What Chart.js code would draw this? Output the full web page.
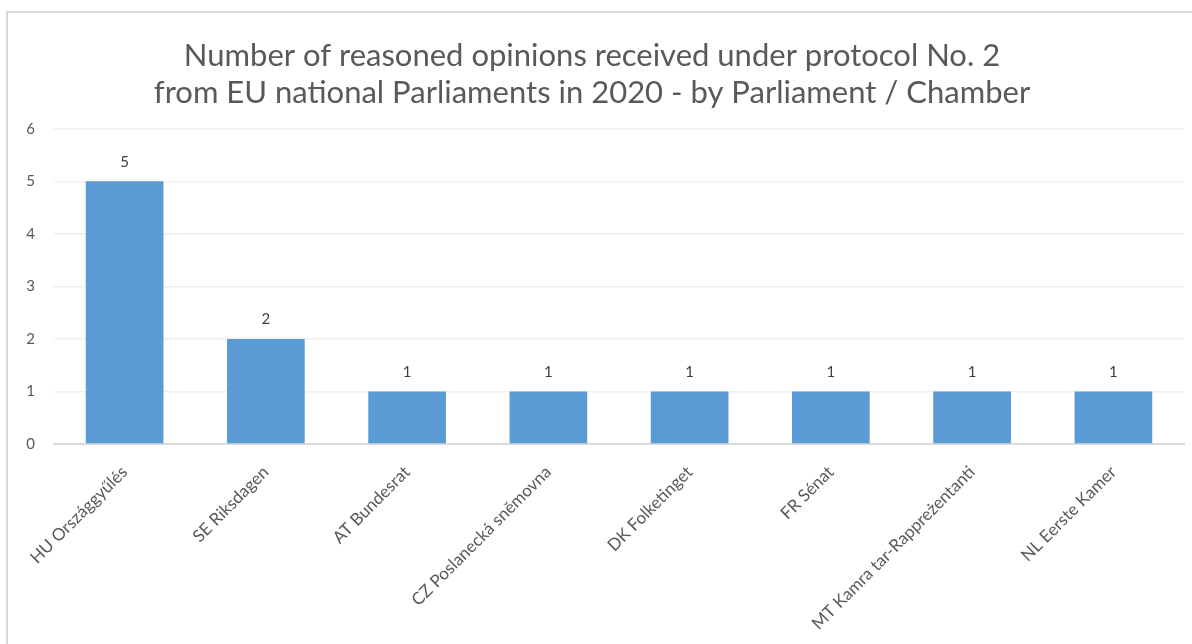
<!DOCTYPE html>
<html>
<head>
<meta charset="utf-8">
<script src="https://cdn.jsdelivr.net/npm/chart.js@4"></script>
<style>
  html,body{margin:0;padding:0;background:#fff;width:1192px;height:644px;overflow:hidden;}
  #wrap{position:absolute;left:0;top:0;width:1192px;height:644px;}
  #frame{position:absolute;left:6px;top:11px;width:1190px;height:650px;border:2px solid #d9d9d9;pointer-events:none;box-sizing:border-box;}
</style>
</head>
<body>
<div id="wrap"><canvas id="c" width="1192" height="644"></canvas></div>
<div id="frame"></div>
<script>
const titleLines = ["Number of reasoned opinions received under protocol No. 2", "from EU national Parliaments in 2020 - by Parliament / Chamber"];
const categories = ["HU Országgyűlés", "SE Riksdagen", "AT Bundesrat", "CZ Poslanecká sněmovna", "DK Folketinget", "FR Sénat", "MT Kamra tar-Rappreżentanti", "NL Eerste Kamer"];
const opinions = [5, 2, 1, 1, 1, 1, 1, 1];
const yTicks = [0, 1, 2, 3, 4, 5, 6];

const FONT = "Lato, 'Open Sans', sans-serif";

const valueLabels = {
  id: 'valueLabels',
  afterDatasetsDraw(chart) {
    const ctx = chart.ctx;
    const meta = chart.getDatasetMeta(0);
    ctx.save();
    ctx.font = "15px " + FONT;
    ctx.fillStyle = "#404040";
    ctx.textAlign = "center";
    ctx.textBaseline = "bottom";
    meta.data.forEach((bar, i) => {
      ctx.fillText(String(chart.data.datasets[0].data[i]), bar.x, bar.y - 12);
    });
    ctx.restore();
  }
};

new Chart(document.getElementById('c'), {
  type: 'bar',
  data: {
    labels: categories,
    datasets: [{
      data: opinions,
      backgroundColor: '#5b9bd5',
      borderWidth: 0,
      categoryPercentage: 1.0,
      barPercentage: 0.55
    }]
  },
  options: {
    responsive: false,
    animation: false,
    devicePixelRatio: 1,
    layout: { padding: { left: 0, right: 8, top: 0, bottom: 0 } },
    plugins: {
      legend: { display: false },
      tooltip: { enabled: false },
      title: {
        display: true,
        text: titleLines,
        color: '#595959',
        font: { family: FONT, size: 31, weight: 'normal', lineHeight: 1.19 },
        padding: { top: 38, bottom: 17 }
      }
    },
    scales: {
      x: {
        grid: { display: false, drawTicks: false },
        border: { display: true, color: '#d9d9d9', width: 2 },
        ticks: {
          color: '#595959',
          font: { family: FONT, size: 17 },
          minRotation: 45,
          maxRotation: 45,
          autoSkip: false,
          padding: 18
        },
        afterFit(scale) { scale.height = 200; }
      },
      y: {
        min: 0,
        max: 6,
        afterBuildTicks(scale) { scale.ticks = yTicks.map(v => ({ value: v })); },
        grid: { color: '#efefef', lineWidth: 1.5, drawTicks: false },
        border: { display: false },
        ticks: {
          color: '#595959',
          font: { family: FONT, size: 15 },
          padding: 19
        },
        afterFit(scale) { scale.width = 54; }
      }
    }
  },
  plugins: [valueLabels]
});
</script>
</body>
</html>
